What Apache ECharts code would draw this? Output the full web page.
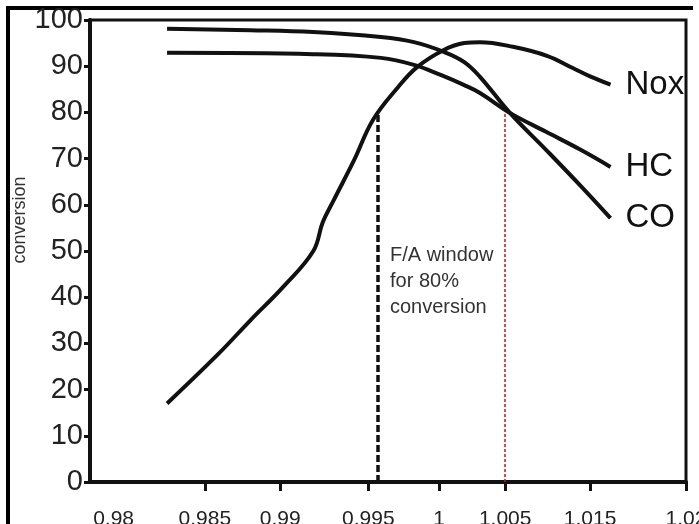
<!DOCTYPE html>
<html>
<head>
<meta charset="utf-8">
<title>conversion vs F/A</title>
<script src="https://cdn.jsdelivr.net/npm/echarts@6/dist/echarts.min.js"></script>
<style>
	html, body { margin: 0; padding: 0; background: #fff; }
	#main { width: 699px; height: 524px; }
</style>
</head>
<body>
<div id="main"></div>
<script>
// F/A ratio values (axis is drawn a bit irregular in the original)
var xTickLabels = ['0.98', '0.985', '0.99', '0.995', '1', '1.005', '1.015', '1.02'];
var xTickAt = [0.9793, 0.9851, 0.9899, 0.9955, 1.0000, 1.0042, 1.0096, 1.0157];
var xMin = 0.9778;
var xMax = 1.0157;

var yTicks = [0, 10, 20, 30, 40, 50, 60, 70, 80, 90, 100];

// Nox
var noxX = [0.9827, 0.9859, 0.9880, 0.9901, 0.9920, 0.9926, 0.9933, 0.9946, 0.9958, 0.9974, 0.9986, 1.0003, 1.0016, 1.0026, 1.0047, 1.0069, 1.0085, 1.0096, 1.0109];
var noxY = [17.0, 27.5, 35.0, 42.3, 50.0, 56.2, 61.0, 69.7, 78.4, 85.5, 89.8, 93.5, 95.0, 95.2, 94.2, 92.2, 89.6, 87.8, 86.0];
// HC
var hcX = [0.9827, 0.9920, 0.9963, 0.9984, 1.0001, 1.0016, 1.0026, 1.0045, 1.0068, 1.0090, 1.0109];
var hcY = [92.9, 92.6, 91.8, 90.3, 88.1, 85.9, 84.2, 79.9, 75.8, 71.9, 68.2];
// CO
var coX = [0.9827, 0.9880, 0.9920, 0.9963, 0.9984, 1.0003, 1.0016, 1.0026, 1.0045, 1.0068, 1.0090, 1.0109];
var coY = [98.1, 97.8, 97.4, 96.3, 95.2, 93.1, 90.9, 87.7, 79.9, 71.9, 64.1, 57.1];

// window for 80% conversion
var windowX = [0.9961, 1.0042];
var windowTop = [79.5, 80.0];

var font = "'Liberation Sans', Arial, sans-serif";

var pairs = function(xs, ys){
	var out = [];
	for (var i = 0; i < xs.length; i++) {
		out.push([xs[i], ys[i]]);
	}
	return out;
}

var curve = function(name, xs, ys){
	return {
		name: name,
		type: 'line',
		data: pairs(xs, ys),
		smooth: 0.4,
		showSymbol: false,
		lineStyle: { color: '#111', width: 4 },
		itemStyle: { color: '#111' },
		endLabel: {
			show: true,
			formatter: '{a}',
			distance: 15,
			color: '#111',
			fontSize: 33,
			fontFamily: font
		}
	}
}

var nox = curve('Nox', noxX, noxY);
nox.markLine = {
	silent: true,
	symbol: 'none',
	label: { show: false },
	data: [
		[
			{ coord: [windowX[0], 0], lineStyle: { color: '#111', width: 3.5, type: [7, 3] } },
			{ coord: [windowX[0], windowTop[0]] }
		],
		[
			{ coord: [windowX[1], 0], lineStyle: { color: '#d01010', width: 1.5, type: [3, 2] } },
			{ coord: [windowX[1], windowTop[1]] }
		]
	]
};

var chart = echarts.init(document.getElementById('main'));
chart.setOption({
	animation: false,
	backgroundColor: '#fff',
	grid: {
		left: 90, right: 13, top: 20, bottom: 42,
		outerBoundsMode: 'none',
		containLabel: false,
		show: true, borderColor: '#111', borderWidth: 3
	},
	xAxis: {
		type: 'value',
		min: xMin,
		max: xMax,
		splitLine: { show: false },
		axisLine: { lineStyle: { color: '#111', width: 4 } },
		axisTick: {
			show: true,
			customValues: xTickAt.slice(1),
			length: 9,
			lineStyle: { color: '#111', width: 3 }
		},
		axisLabel: {
			customValues: xTickAt,
			margin: 27,
			color: '#222',
			fontSize: 21,
			fontFamily: font,
			formatter: function(v){
				var best = 0;
				for (var i = 1; i < xTickAt.length; i++) {
					if (Math.abs(xTickAt[i] - v) < Math.abs(xTickAt[best] - v)) best = i;
				}
				return xTickLabels[best];
			}
		}
	},
	yAxis: {
		type: 'value',
		min: yTicks[0],
		max: yTicks[yTicks.length - 1],
		interval: 10,
		splitLine: { show: false },
		axisLine: { show: true, lineStyle: { color: '#111', width: 4 } },
		axisTick: { show: true, length: 6, lineStyle: { color: '#111', width: 3 } },
		axisLabel: {
			margin: 7,
			color: '#222',
			fontSize: 29,
			fontFamily: font
		}
	},
	series: [nox, curve('HC', hcX, hcY), curve('CO', coX, coY)],
	graphic: [
		// outer frame of the figure
		{
			type: 'polyline',
			shape: { points: [[8, 524], [8, 8], [693, 8]] },
			style: { stroke: '#000', lineWidth: 4, fill: null }
		},
		{
			type: 'text',
			x: 20, y: 220,
			rotation: Math.PI / 2,
			style: {
				text: 'conversion',
				align: 'center',
				verticalAlign: 'middle',
				fill: '#333',
				fontSize: 18,
				fontFamily: font
			}
		},
		{
			type: 'text',
			left: 390, top: 242,
			style: {
				text: 'F/A window\nfor 80%\nconversion',
				fill: '#333',
				fontSize: 20,
				lineHeight: 26,
				fontFamily: font
			}
		}
	]
});
</script>
</body>
</html>
